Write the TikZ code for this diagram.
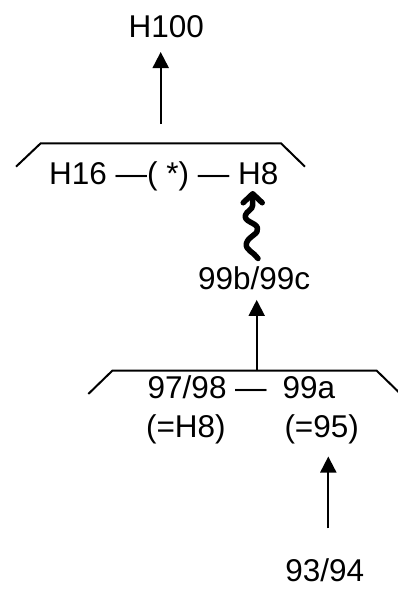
\documentclass[tikz,border=0pt]{standalone}
\usepackage{fontspec}
\setmainfont{Liberation Sans}
\usetikzlibrary{arrows.meta}
\tikzset{
  txt/.style={inner sep=0pt, outer sep=0pt},
  arr/.style={line width=2pt, -{Triangle[length=16pt,width=16pt]}},
  bracket/.style={line width=2pt},
  wavy/.style={line width=5.5pt, line cap=round, line join=round,
    -{Straight Barb[length=9pt,width=19pt,line cap=round,line join=round]}}
}
\begin{document}
\begin{tikzpicture}[x=1pt,y=-1pt,font=\fontsize{31.5}{38}\selectfont]
\useasboundingbox (0,0) rectangle (397,589);
% texts
\node[txt, anchor=base] (h100) at (166.2,37.7) {H100};
\node[txt, anchor=base west] (h8) at (238.2,184.3) {H8};
\node[txt, anchor=base east] (h16) at ([xshift=-8.76pt]h8.base west) {H16 —( *) —};
\node[txt, anchor=base west] (n99b) at (198,289.3) {99b/99c};
\node[txt, anchor=base west] (n9798) at (147.7,398.3) {97/98 —};
\node[txt, anchor=base west] (n99a) at (282.7,398.3) {99a};
\node[txt, anchor=base west] (eqH8) at (146.1,437.3) {(=H8)};
\node[txt, anchor=base west] (eq95) at (284.5,437.3) {(=95)};
\node[txt, anchor=base west] (n9394) at (285.4,581.7) {93/94};
% brackets
\draw[bracket] (16,166.7) -- (40.7,143.3) -- (281,143.3) -- (305,166.7);
\draw[bracket] (88.3,394) -- (112.3,370.7) -- (376.7,370.7) -- (400.5,393.8);
% arrows
\coordinate (a1s) at (160.7,124);
\draw[arr, shorten >=14pt] (a1s) -- (a1s |- h100.south);
\coordinate (a2s) at (256.7,370.7);
\draw[arr, shorten >=10.3pt] (a2s) -- (a2s |- n99b.south);
\coordinate (a3) at (328.3,0);
\draw[arr, shorten <=30.5pt, shorten >=12.7pt] (n9394.north -| a3) -- (eq95.south -| a3);
% wavy arrow
\coordinate (ws) at (258,258.5);
\coordinate (we) at (252.7,191);
\draw[wavy] (ws) .. controls (254,252) and (244.5,250) .. (246.5,243)
  .. controls (248.5,236) and (259.5,234) .. (257.5,228)
  .. controls (255.5,222) and (243.5,222) .. (245.5,215)
  .. controls (246.5,211) and (252.7,210) .. (252.7,205) -- (we);
\end{tikzpicture}
\end{document}
